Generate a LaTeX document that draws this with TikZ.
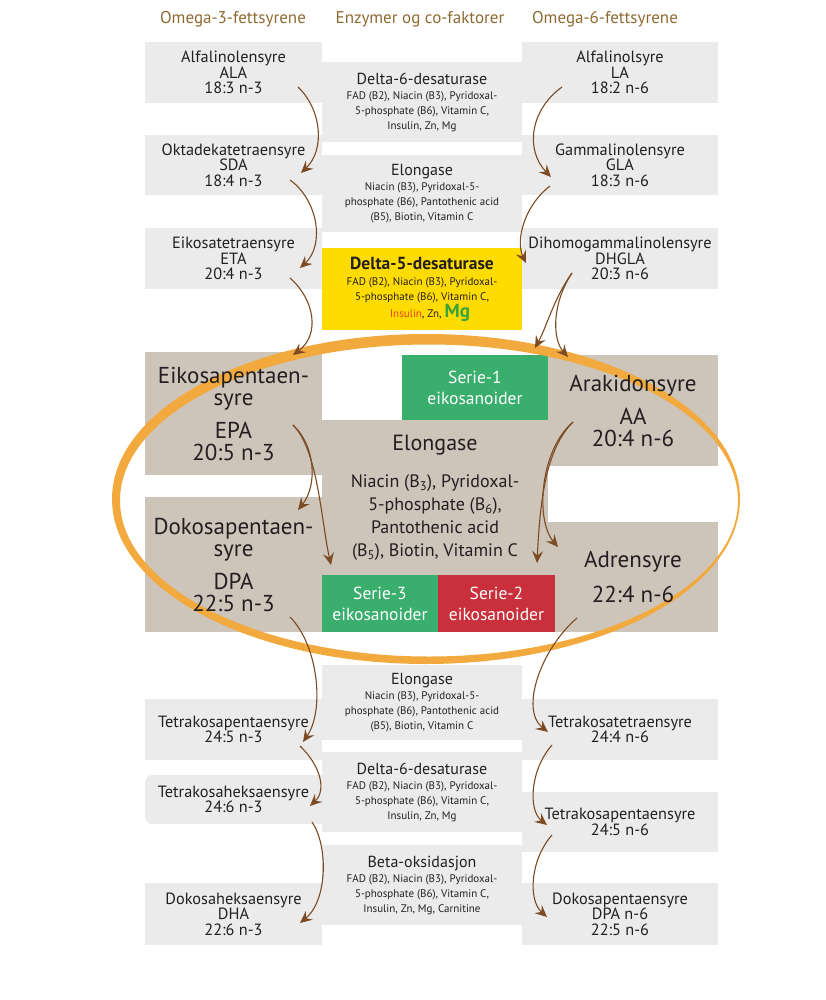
\documentclass[tikz,border=0pt]{standalone}
\usepackage{fontspec}
\setmainfont{PT Sans}
\usetikzlibrary{arrows.meta}
\pgfdeclarelayer{boxes}
\pgfdeclarelayer{ring}
\pgfsetlayers{boxes,ring,main}

\definecolor{lightbox}{HTML}{EBEBEB}
\definecolor{tanbox}{HTML}{CDC4BA}
\definecolor{yellowbox}{HTML}{FFDC00}
\definecolor{greenbox}{HTML}{3AAE6C}
\definecolor{redbox}{HTML}{C9303B}
\definecolor{ringorange}{HTML}{F2AA3E}
\definecolor{arrowbrown}{HTML}{7C4A23}
\definecolor{headbrown}{HTML}{8E6A33}
\definecolor{textdark}{HTML}{231F20}
\definecolor{insulinred}{HTML}{E2401F}
\definecolor{mggreen}{HTML}{3BA33A}

\newcommand\headfont{\fontsize{17}{18}\selectfont}
\newcommand\acidfont{\fontsize{16.3}{15.5}\selectfont}
\newcommand\titlefont{\fontsize{16}{16}\selectfont}
\newcommand\cofont{\fontsize{11}{15}\selectfont}
\newcommand\bigfont{\fontsize{23}{22}\selectfont}
\newcommand\midfont{\fontsize{18}{23}\selectfont}
\newcommand\seriefont{\fontsize{17.5}{21}\selectfont}

\begin{document}
\begin{tikzpicture}[x=1pt,y=-1pt,
    every node/.style={text=textdark, inner sep=0pt, align=center},
    head/.style={text=headbrown, font=\headfont},
    acid/.style={minimum width=177pt, minimum height=61pt, font=\acidfont},
    acidr/.style={minimum width=196pt, minimum height=61pt, font=\acidfont},
    enzyme/.style={minimum width=200pt, minimum height=80pt, font=\cofont},
    big/.style={font=\bigfont},
    serie/.style={text=white, font=\seriefont},
    flow/.style={draw=arrowbrown, line width=1.1pt,
        -{Stealth[length=12pt,width=11pt,inset=4.5pt]}}]
\useasboundingbox (0,0) rectangle (826,1000);

% column headings
\node[head] (omega3) at (233,19) {Omega-3-fettsyrene};
\node[head] (enzymer) at (420,19) {Enzymer og co-faktorer};
\node[head] (omega6) at (605,19) {Omega-6-fettsyrene};

% upper part
\node[acid] (ala) at (233.5,72.5) {Alfalinolensyre\\ALA\\18:3 n-3};
\node[acid, minimum height=60pt] (sda) at (233.5,165) {Oktadekatetraensyre\\SDA\\18:4 n-3};
\node[acid] (eta) at (233.5,258.5) {Eikosatetraensyre\\ETA\\20:4 n-3};
\node[acidr] (la) at (620,72.5) {Alfalinolsyre\\LA\\18:2 n-6};
\node[acidr, minimum height=60pt] (gla) at (620,165) {Gammalinolensyre\\GLA\\18:3 n-6};
\node[acidr] (dhgla) at (620,258.5) {Dihomogammalinolensyre\\DHGLA\\20:3 n-6};

\node[enzyme] (d6a) at (422,102) {{\titlefont Delta-6-desaturase}\\
    FAD (B2), Niacin (B3), Pyridoxal-\\5-phosphate (B6), Vitamin C,\\Insulin, Zn, Mg};
\node[enzyme, minimum height=77pt] (elo1) at (422,193.5) {{\titlefont Elongase}\\
    Niacin (B3), Pyridoxal-5-\\phosphate (B6), Pantothenic acid\\(B5), Biotin, Vitamin C};
\node[enzyme, minimum height=82pt] (d5) at (422,289) {{\fontsize{17.5}{16}\selectfont\bfseries Delta-5-desaturase}\\[1pt]
    FAD (B2), Niacin (B3), Pyridoxal-\\5-phosphate (B6), Vitamin C,\\
    \hspace*{16pt}\textcolor{insulinred}{Insulin}, Zn, \textcolor{mggreen}{\fontsize{19}{15}\selectfont\bfseries Mg}};

% middle part (inside the ring)
\node[big, minimum width=177pt, minimum height=123pt] (epa) at (233.5,413.5) {Eikosapentaen-\\syre\\[11pt]EPA\\20:5 n-3};
\node[big, minimum width=177pt, minimum height=135pt] (dpa) at (233.5,564.5) {Dokosapentaen-\\syre\\[11pt]DPA\\22:5 n-3};
\node[serie, minimum width=146pt, minimum height=65pt] (serie1) at (475,387.5) {Serie-1\\eikosanoider};
\node[big, minimum width=170pt, minimum height=111pt] (aa) at (633,410.5) {Arakidonsyre\\[11pt]AA\\20:4 n-6};
\node[font=\midfont, minimum width=226pt, minimum height=155pt] (elo2) at (435,497.5) {{\fontsize{22}{22}\selectfont Elongase}\\[14pt]
    Niacin (B\textsubscript{3}), Pyridoxal-\\5-phosphate (B\textsubscript{6}),\\Pantothenic acid\\(B\textsubscript{5}), Biotin, Vitamin C};
\node[big, minimum width=170pt, minimum height=110pt] (adr) at (633,577) {Adrensyre\\[13pt]22:4 n-6};
\node[serie, minimum width=116pt, minimum height=57pt] (serie3) at (380,603.5) {Serie-3\\eikosanoider};
\node[serie, minimum width=117pt, minimum height=57pt] (serie2) at (496.5,603.5) {Serie-2\\eikosanoider};

% lower part
\node[enzyme, minimum height=75pt] (elo3) at (422,702.5) {{\titlefont Elongase}\\
    Niacin (B3), Pyridoxal-5-\\phosphate (B6), Pantothenic acid\\(B5), Biotin, Vitamin C};
\node[enzyme] (d6b) at (422,792) {{\titlefont Delta-6-desaturase}\\
    FAD (B2), Niacin (B3), Pyridoxal-\\5-phosphate (B6), Vitamin C,\\Insulin, Zn, Mg};
\node[enzyme] (beta) at (422,885) {{\titlefont Beta-oksidasjon}\\
    FAD (B2), Niacin (B3), Pyridoxal-\\5-phosphate (B6), Vitamin C,\\Insulin, Zn, Mg, Carnitine};

\node[acid] (t5n3) at (233.5,729.5) {Tetrakosapentaensyre\\24:5 n-3};
\node[acid, minimum height=49pt] (t6n3) at (233.5,799.5) {Tetrakosaheksaensyre\\24:6 n-3};
\node[acid, minimum height=62pt] (dha) at (233.5,914) {Dokosaheksaensyre\\DHA\\22:6 n-3};
\node[acidr] (t4n6) at (620,729.5) {Tetrakosatetraensyre\\24:4 n-6};
\node[acidr, minimum height=60pt] (t5n6) at (620,822) {Tetrakosapentaensyre\\24:5 n-6};
\node[acidr, minimum height=62pt] (dpa6) at (620,914) {Dokosapentaensyre\\DPA n-6\\22:5 n-6};

% box fills
\begin{pgfonlayer}{boxes}
  \foreach \n/\c in {ala/lightbox, sda/lightbox, eta/lightbox, la/lightbox, gla/lightbox,
      dhgla/lightbox, d6a/lightbox, elo1/lightbox, d5/yellowbox, epa/tanbox, dpa/tanbox,
      serie1/greenbox, aa/tanbox, elo2/tanbox, adr/tanbox, serie3/greenbox, serie2/redbox,
      elo3/lightbox, d6b/lightbox, beta/lightbox, t5n3/lightbox, dha/lightbox,
      t4n6/lightbox, t5n6/lightbox, dpa6/lightbox}
    \fill[\c] (\n.south west) rectangle (\n.north east);
  \fill[lightbox, rounded corners=8pt] (t6n3.south west) rectangle (t6n3.north east);
  \fill[lightbox] (t6n3.south) rectangle (t6n3.north east);
\end{pgfonlayer}

% the ring
\begin{pgfonlayer}{ring}
  \fill[ringorange, even odd rule] (426,499) ellipse [x radius=314pt, y radius=165pt]
      (429,500.5) ellipse [x radius=309pt, y radius=156pt];
\end{pgfonlayer}

% omega-3 arrows
\draw[flow] ([shift={(64.5,14.5)}]ala.center) .. controls +(24,23) and +(24,-23) .. ([shift={(67.5,8)}]sda.center);
\draw[flow] ([shift={(56.5,15)}]sda.center) .. controls +(28,20) and +(25,-23) .. ([shift={(66.5,9.5)}]eta.center);
\draw[flow] ([shift={(56.5,19.5)}]eta.center) .. controls +(25,22) and +(27,-20) .. ([shift={(59.5,-58.5)}]epa.center);
\draw[flow] ([shift={(59.5,11.5)}]epa.center) .. controls +(22,20) and +(20,-25) .. ([shift={(64.5,-54.5)}]dpa.center);
\draw[flow] ([shift={(59.5,11.5)}]epa.center) .. controls +(25,25) and +(-10,-45) .. ([shift={(-49,-38.5)}]serie3.center);
\draw[flow] ([shift={(56.5,52.5)}]dpa.center) .. controls +(28,28) and +(22,-32) .. ([shift={(69.5,12.5)}]t5n3.center);
\draw[flow] ([shift={(66.5,16.5)}]t5n3.center) .. controls +(20,19) and +(17,-16) .. ([shift={(76.5,6.5)}]t6n3.center);
\draw[flow] ([shift={(78.5,22.5)}]t6n3.center) .. controls +(16,23) and +(28,-23) .. ([shift={(66.5,9)}]dha.center);

% omega-6 arrows
\draw[flow] ([shift={(-58,14.5)}]la.center) .. controls +(-32,23) and +(-26,-27) .. ([shift={(-69,12)}]gla.center);
\draw[flow] ([shift={(-70,21)}]gla.center) .. controls +(-25,19) and +(-11,-23) .. ([shift={(-94,4.5)}]dhgla.center);
\draw[flow] ([shift={(-48,14.5)}]dhgla.center) .. controls +(-18,25) and +(12,-22) .. ([shift={(60,-39.5)}]serie1.center);
\draw[flow] ([shift={(-48,14.5)}]dhgla.center) .. controls +(-20,30) and +(-16,-18) .. ([shift={(-65,-53.5)}]aa.center);
\draw[flow] ([shift={(-60,11.5)}]aa.center) .. controls +(-33,28) and +(-23,-27) .. ([shift={(-75,-30)}]adr.center);
\draw[flow] ([shift={(-60,11.5)}]aa.center) .. controls +(-28,28) and +(3,-60) .. ([shift={(40.5,-40.5)}]serie2.center);
\draw[flow] ([shift={(-56,41)}]adr.center) .. controls +(-37,32) and +(-28,-22) .. ([shift={(-72,2.5)}]t4n6.center);
\draw[flow] ([shift={(-68,15.5)}]t4n6.center) .. controls +(-22,25) and +(-19,-15) .. ([shift={(-73,3)}]t5n6.center);
\draw[flow] ([shift={(-68,13)}]t5n6.center) .. controls +(-22,25) and +(-19,-17) .. ([shift={(-73,3)}]dpa6.center);
\end{tikzpicture}
\end{document}
